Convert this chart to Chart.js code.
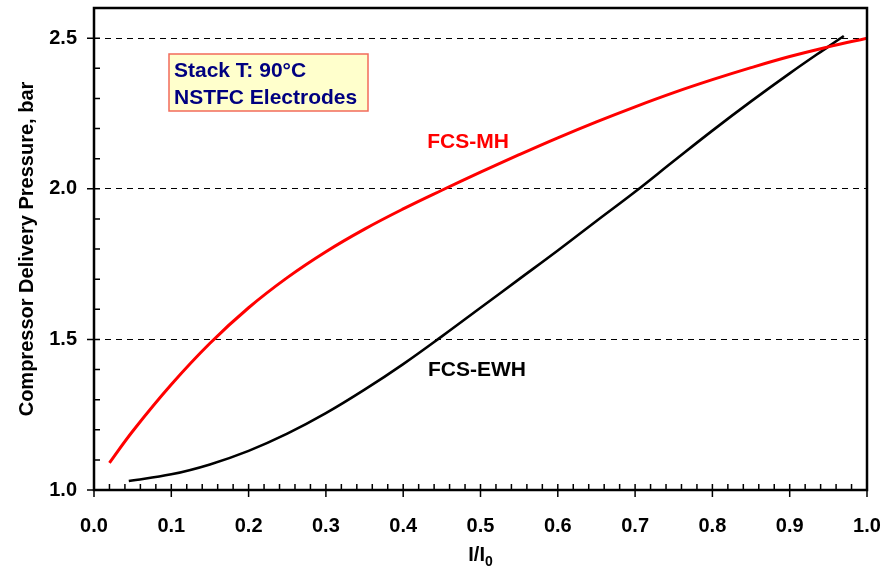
<!DOCTYPE html>
<html>
<head>
<meta charset="utf-8">
<script src="https://cdn.jsdelivr.net/npm/chart.js@4.4.1/dist/chart.umd.min.js"></script>
<style>
  html, body { margin: 0; padding: 0; background: #fff; }
  canvas { display: block; }
</style>
</head>
<body>
<canvas id="chart" width="892" height="571"></canvas>
<script>
// compressor delivery pressure vs I/I0
const MH_X = [0.02, 0.05, 0.10, 0.15, 0.20, 0.25, 0.30, 0.35, 0.40, 0.45, 0.50, 0.55, 0.60, 0.65, 0.70, 0.75, 0.80, 0.85, 0.90, 0.95, 1.00];
const MH_Y = [1.09, 1.195, 1.35, 1.487, 1.605, 1.705, 1.791, 1.866, 1.933, 1.995, 2.055, 2.113, 2.169, 2.222, 2.272, 2.319, 2.362, 2.402, 2.439, 2.471, 2.50];

const EWH_X = [0.045, 0.10, 0.15, 0.20, 0.25, 0.30, 0.35, 0.40, 0.45, 0.50, 0.55, 0.60, 0.65, 0.70, 0.75, 0.80, 0.85, 0.90, 0.95, 0.97];
const EWH_Y = [1.03, 1.052, 1.085, 1.13, 1.187, 1.255, 1.333, 1.418, 1.51, 1.605, 1.70, 1.795, 1.893, 1.99, 2.092, 2.193, 2.29, 2.383, 2.472, 2.507];

const X_TICKS = [0.0, 0.1, 0.2, 0.3, 0.4, 0.5, 0.6, 0.7, 0.8, 0.9, 1.0];
const Y_TICKS = [1.0, 1.5, 2.0, 2.5];

const SERIES = ['FCS-MH', 'FCS-EWH'];
const NOTE_LINES = ['Stack T: 90°C', 'NSTFC Electrodes'];
const Y_TITLE = 'Compressor Delivery Pressure, bar';

const FONT = "'Liberation Sans', Arial, sans-serif";

function pts(xs, ys) {
  return xs.map(function (x, i) { return { x: x, y: ys[i] }; });
}

// frame, tick marks, titles and in-plot labels
const decor = {
  id: 'decor',
  afterDatasetsDraw(chart) {
    const ctx = chart.ctx, a = chart.chartArea;
    const x = chart.scales.x, y = chart.scales.y;
    ctx.save();
    ctx.strokeStyle = '#000';
    ctx.lineWidth = 1.5;
    ctx.beginPath();
    for (let i = 0; i <= 50; i++) {
      const px = x.getPixelForValue(i / 50);
      const major = i % 5 === 0;
      ctx.moveTo(px, a.bottom + (major ? 7 : 0));
      ctx.lineTo(px, a.bottom - 6);
    }
    for (let i = 10; i <= 26; i++) {
      const py = y.getPixelForValue(i / 10);
      const major = i % 5 === 0;
      ctx.moveTo(a.left - (major ? 7 : 0), py);
      ctx.lineTo(a.left + 6, py);
    }
    ctx.stroke();
    ctx.lineWidth = 2.5;
    ctx.strokeRect(a.left, a.top, a.right - a.left, a.bottom - a.top);

    // axis titles
    ctx.fillStyle = '#000';
    ctx.font = 'bold 20px ' + FONT;
    ctx.textAlign = 'center';
    ctx.textBaseline = 'middle';
    ctx.save();
    ctx.translate(27, (a.top + a.bottom) / 2);
    ctx.rotate(-Math.PI / 2);
    ctx.fillText(Y_TITLE, 0, 0);
    ctx.restore();

    ctx.textBaseline = 'alphabetic';
    ctx.textAlign = 'left';
    const main = 'I/I';
    const w1 = ctx.measureText(main).width;
    ctx.font = 'bold 14px ' + FONT;
    const w2 = ctx.measureText('0').width;
    const cx = (a.left + a.right) / 2;
    const sx = cx - (w1 + w2) / 2;
    ctx.font = 'bold 20px ' + FONT;
    ctx.fillText(main, sx, 561);
    ctx.font = 'bold 14px ' + FONT;
    ctx.fillText('0', sx + w1, 566);

    // note box
    ctx.fillStyle = '#FFFFCC';
    ctx.fillRect(169, 54, 199, 57);
    ctx.strokeStyle = '#F26B5B';
    ctx.lineWidth = 1.5;
    ctx.strokeRect(169, 54, 199, 57);
    ctx.fillStyle = '#000080';
    ctx.font = 'bold 21px ' + FONT;
    ctx.fillText(NOTE_LINES[0], 174, 77);
    ctx.fillText(NOTE_LINES[1], 174, 104);

    // series labels
    ctx.textAlign = 'center';
    ctx.textBaseline = 'middle';
    ctx.fillStyle = '#FF0000';
    ctx.fillText(SERIES[0], 468, 142);
    ctx.fillStyle = '#000';
    ctx.fillText(SERIES[1], 477, 370);
    ctx.restore();
  }
};

new Chart(document.getElementById('chart'), {
  type: 'scatter',
  data: {
    datasets: [
      { label: SERIES[0], data: pts(MH_X, MH_Y), showLine: true, borderColor: '#FF0000', borderWidth: 3, pointRadius: 0, tension: 0.4 },
      { label: SERIES[1], data: pts(EWH_X, EWH_Y), showLine: true, borderColor: '#000000', borderWidth: 2.6, pointRadius: 0, tension: 0.4 }
    ]
  },
  options: {
    responsive: false,
    animation: false,
    layout: { padding: { top: 8, right: 25, left: 0, bottom: 0 } },
    plugins: { legend: { display: false }, tooltip: { enabled: false } },
    scales: {
      x: {
        type: 'linear', min: 0, max: 1,
        afterBuildTicks: function (s) { s.ticks = X_TICKS.map(function (v) { return { value: v }; }); },
        afterFit: function (s) { s.height = 81; s.paddingLeft = 0; s.paddingRight = 0; },
        grid: { display: false, drawTicks: false },
        border: { display: false },
        ticks: {
          padding: 24, color: '#000', maxRotation: 0,
          font: { family: FONT, size: 20, weight: 'bold' },
          callback: function (v) { return Number(v).toFixed(1); }
        }
      },
      y: {
        type: 'linear', min: 1.0, max: 2.6,
        afterBuildTicks: function (s) { s.ticks = Y_TICKS.map(function (v) { return { value: v }; }); },
        afterFit: function (s) { s.width = 94; s.paddingTop = 0; s.paddingBottom = 0; },
        grid: { color: '#000', lineWidth: 1, drawTicks: false },
        border: { display: false, dash: [6, 5] },
        ticks: {
          padding: 17, color: '#000',
          font: { family: FONT, size: 20, weight: 'bold' },
          callback: function (v) { return Number(v).toFixed(1); }
        }
      }
    }
  },
  plugins: [decor]
});
</script>
</body>
</html>
